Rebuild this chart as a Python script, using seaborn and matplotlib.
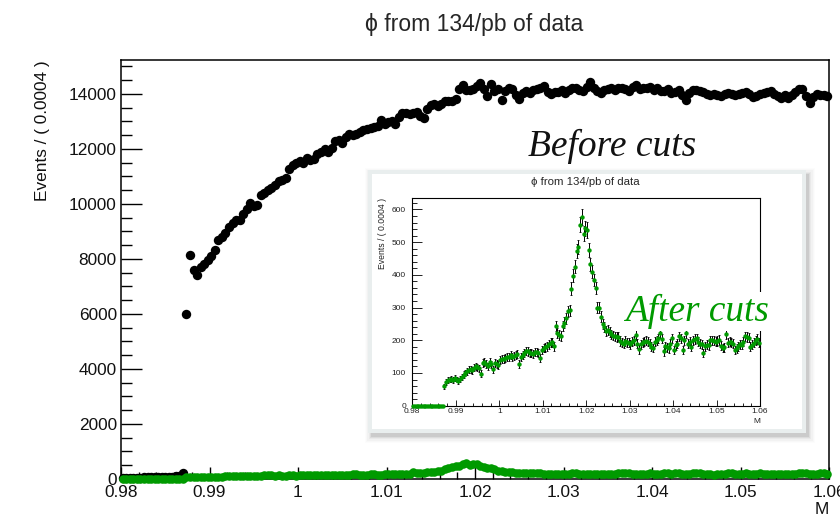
import numpy as np
import pandas as pd
import matplotlib
matplotlib.use("Agg")
import matplotlib.pyplot as plt
from matplotlib.patches import Rectangle
from matplotlib.ticker import FixedLocator, MultipleLocator, FuncFormatter
import seaborn as sns

# Binning of the K+K- invariant mass histogram
mass_lo, mass_hi, bin_width = 0.98, 1.06, 0.0004

# Events per bin before the selection cuts
before_cuts = [
    40, 42, 45, 47, 50, 52, 55, 58, 60, 63,
    66, 70, 74, 80, 88, 98, 125, 230, 6000, 8130,
    7610, 7430, 7700, 7820, 7950, 8100, 8340, 8670, 8800, 8945,
    9150, 9300, 9430, 9400, 9620, 9800, 10020, 9920, 9960, 10340,
    10410, 10520, 10560, 10680, 10830, 10880, 10950, 11250, 11410, 11490,
    11550, 11500, 11670, 11590, 11640, 11820, 11890, 12010, 11880, 12040,
    12300, 12340, 12220, 12430, 12550, 12500, 12550, 12610, 12670, 12720,
    12770, 12790, 12840, 13040, 12910, 12960, 13010, 12910, 13150, 13286,
    13290, 13250, 13310, 13340, 13190, 13130, 13460, 13580, 13620, 13560,
    13620, 13730, 13740, 13730, 13800, 14160, 14310, 14140, 14140, 14190,
    14280, 14380, 14190, 13920, 14340, 14100, 14160, 13770, 14100, 14220,
    14160, 13940, 13820, 14040, 14100, 14040, 14140, 14160, 14220, 14280,
    14060, 14010, 14060, 14080, 14140, 14040, 14140, 14220, 14220, 14140,
    14100, 14260, 14430, 14220, 14100, 14040, 14140, 14190, 14197, 14136,
    14220, 14230, 14180, 14110, 14260, 14330, 14180, 14210, 14230, 14260,
    14140, 14210, 14120, 14090, 14190, 14040, 14060, 14140, 13940, 13770,
    14040, 14140, 14140, 14100, 14060, 14010, 13940, 13980, 13940, 13910,
    14010, 14040, 13990, 13940, 14010, 14040, 14060, 13980, 13890, 13910,
    14010, 14040, 14070, 14100, 13990, 13910, 13850, 13940, 13850, 13940,
    14060, 14160, 14190, 13910, 13670, 13890, 14010, 13960, 13940, 13910,
]

# Events per bin after the selection cuts
after_cuts = [
    0, 0, 0, 0, 0, 0, 0, 0, 0, 0,
    0, 0, 0, 0, 0, 0, 0, 0, 60, 72,
    78, 80, 82, 78, 84, 80, 76, 82, 88, 95,
    100, 105, 110, 112, 108, 116, 120, 118, 115, 98,
    130, 134, 128, 120, 134, 126, 112, 130, 128, 124,
    140, 142, 144, 146, 148, 150, 154, 150, 152, 156,
    158, 128, 150, 155, 160, 168, 166, 162, 160, 158,
    165, 164, 162, 145, 170, 176, 178, 182, 188, 192,
    194, 182, 243, 222, 216, 213, 243, 254, 267, 289,
    292, 358, 397, 425, 472, 486, 553, 577, 526, 542,
    537, 476, 432, 410, 384, 359, 300, 300, 272, 250,
    240, 228, 232, 226, 218, 214, 212, 210, 211, 198,
    192, 190, 198, 194, 192, 188, 196, 200, 216, 190,
    172, 188, 194, 196, 199, 196, 189, 180, 176, 196,
    200, 206, 222, 205, 166, 182, 178, 175, 190, 206,
    170, 185, 190, 212, 206, 170, 200, 222, 190, 196,
    180, 200, 204, 206, 196, 190, 188, 162, 182, 186,
    185, 200, 200, 199, 196, 198, 201, 184, 176, 178,
    220, 193, 196, 194, 189, 170, 175, 182, 188, 187,
    196, 212, 210, 208, 180, 186, 193, 200, 204, 193,
]

title_text = "\u03d5 from 134/pb of data"
y_title = "Events / ( 0.0004 )"
x_title = "M"
x_ticks = [0.98, 0.99, 1.00, 1.01, 1.02, 1.03, 1.04, 1.05, 1.06]
main_y_ticks = [0, 2000, 4000, 6000, 8000, 10000, 12000, 14000]
inset_y_ticks = [0, 100, 200, 300, 400, 500, 600]
label_before = "Before cuts"
label_after = "After cuts"

n_bins = len(before_cuts)
centers = mass_lo + bin_width * (np.arange(n_bins) + 0.5)
df = pd.DataFrame({"M": centers, "before": before_cuts, "after": after_cuts})
df["err"] = np.sqrt(df["after"])

GREEN = "#009a00"

sns.set_theme(style="white")
plt.rcParams["font.family"] = ["Liberation Sans", "DejaVu Sans"]

W, H = 840, 517
fig = plt.figure(figsize=(W / 100, H / 100), dpi=100)


def fbox(x0, y0, x1, y1):
    """Pixel box (top-left origin) -> figure-fraction rectangle."""
    return [x0 / W, 1 - y1 / H, (x1 - x0) / W, (y1 - y0) / H]


def fx(x):
    return x / W


def fy(y):
    return 1 - y / H


fmt_g = FuncFormatter(lambda v, p: f"{v:g}")
fmt_int = FuncFormatter(lambda v, p: f"{int(round(v))}")

# ---------------- main frame ----------------
ax = fig.add_axes(fbox(121, 60, 829, 479))
ax.set_facecolor("white")
sns.scatterplot(data=df, x="M", y="before", color="black", s=46, linewidth=0,
                ax=ax, zorder=3, clip_on=False, legend=False)
sns.scatterplot(data=df, x="M", y="after", color=GREEN, s=38, linewidth=0,
                ax=ax, zorder=4, clip_on=False, legend=False)
ax.set_xlim(mass_lo, mass_hi)
ax.set_ylim(0, 15230)
ax.set_xlabel("")
ax.set_ylabel("")
ax.xaxis.set_major_locator(FixedLocator(x_ticks))
ax.xaxis.set_minor_locator(MultipleLocator(0.002))
ax.yaxis.set_major_locator(FixedLocator(main_y_ticks))
ax.yaxis.set_minor_locator(MultipleLocator(500))
ax.xaxis.set_major_formatter(fmt_g)
ax.yaxis.set_major_formatter(fmt_int)
for s in ax.spines.values():
    s.set_color("black")
    s.set_linewidth(1.1)
ax.tick_params(axis="both", which="both", direction="in", color="black",
               width=1.0, bottom=True, left=True, top=False, right=False,
               labelsize=12.4, labelcolor="#111111")
ax.tick_params(axis="y", which="major", length=15, pad=3)
ax.tick_params(axis="y", which="minor", length=7.7)
ax.tick_params(axis="x", which="major", length=8.4, pad=4)
ax.tick_params(axis="x", which="minor", length=4.8)

fig.text(fx(474), fy(25), title_text, ha="center", va="center", fontsize=16.5)
fig.text(fx(43), fy(60), y_title, ha="center", va="top", rotation=90,
         fontsize=12.4, color="#111111")
fig.text(fx(829), fy(510), x_title, ha="right", va="center", fontsize=12.4,
         color="#111111")

fig.text(fx(528), fy(156), label_before, ha="left", va="baseline",
         fontsize=27, style="italic", family=["Liberation Serif"],
         color="#111111", zorder=5)

# ---------------- inset panel (after cuts, zoomed) ----------------
px0, py0, px1, py1 = 368, 170, 806, 433
for k, a in enumerate([0.07, 0.05, 0.035, 0.025, 0.015, 0.01]):
    g = k * 1.2
    fig.add_artist(Rectangle((fx(px0 + 3 - g), fy(py1 + 4 + g)),
                             (px1 - px0 + 2 * g) / W, (py1 - py0 + 2 * g) / H,
                             transform=fig.transFigure, facecolor="black",
                             edgecolor="none", alpha=a, zorder=1))
fig.add_artist(Rectangle((fx(px0), fy(py1)), (px1 - px0) / W, (py1 - py0) / H,
                         transform=fig.transFigure, facecolor="#e9eeee",
                         edgecolor="none", zorder=1.5))
fig.add_artist(Rectangle((fx(px0 + 4), fy(py1 - 4)), (px1 - px0 - 8) / W,
                         (py1 - py0 - 8) / H, transform=fig.transFigure,
                         facecolor="white", edgecolor="none", zorder=1.6))

ax_in = fig.add_axes(fbox(412.3, 198.3, 760, 405.7))
ax_in.set_zorder(2)
ax_in.set_facecolor("white")
ax_in.errorbar(df["M"], df["after"], yerr=df["err"], fmt="none",
               ecolor="black", elinewidth=0.7, capsize=0.8, capthick=0.6,
               zorder=2, clip_on=False)
sns.scatterplot(data=df, x="M", y="after", color=GREEN, s=10, linewidth=0,
                ax=ax_in, zorder=3, clip_on=False, legend=False)
ax_in.set_xlim(mass_lo, mass_hi)
ax_in.set_ylim(0, 634)
ax_in.set_xlabel("")
ax_in.set_ylabel("")
ax_in.xaxis.set_major_locator(FixedLocator(x_ticks))
ax_in.xaxis.set_minor_locator(MultipleLocator(0.002))
ax_in.yaxis.set_major_locator(FixedLocator(inset_y_ticks))
ax_in.yaxis.set_minor_locator(MultipleLocator(20))
ax_in.xaxis.set_major_formatter(fmt_g)
ax_in.yaxis.set_major_formatter(fmt_int)
for s in ax_in.spines.values():
    s.set_color("black")
    s.set_linewidth(0.8)
ax_in.tick_params(axis="both", which="both", direction="in", color="black",
                  width=0.6, bottom=True, left=True, top=False, right=False,
                  labelsize=6, labelcolor="#222222")
ax_in.tick_params(axis="y", which="major", length=7.2, pad=4.5)
ax_in.tick_params(axis="y", which="minor", length=3.6)
ax_in.tick_params(axis="x", which="major", length=4.1, pad=1.6)
ax_in.tick_params(axis="x", which="minor", length=2.2)

fig.text(fx(585), fy(182), title_text, ha="center", va="center", fontsize=8.2,
         zorder=3)
fig.text(fx(382.7), fy(198), y_title, ha="center", va="top", rotation=90,
         fontsize=6.2, color="#222222", zorder=3)
fig.text(fx(760), fy(421.7), x_title, ha="right", va="center", fontsize=6,
         color="#222222", zorder=3)

fig.text(fx(625), fy(321), label_after, ha="left", va="baseline",
         fontsize=26.8, style="italic", family=["Liberation Serif"],
         color=GREEN, zorder=5,
         bbox=dict(facecolor="white", edgecolor="none", pad=1.5))

fig.savefig("out.png", dpi=100)
